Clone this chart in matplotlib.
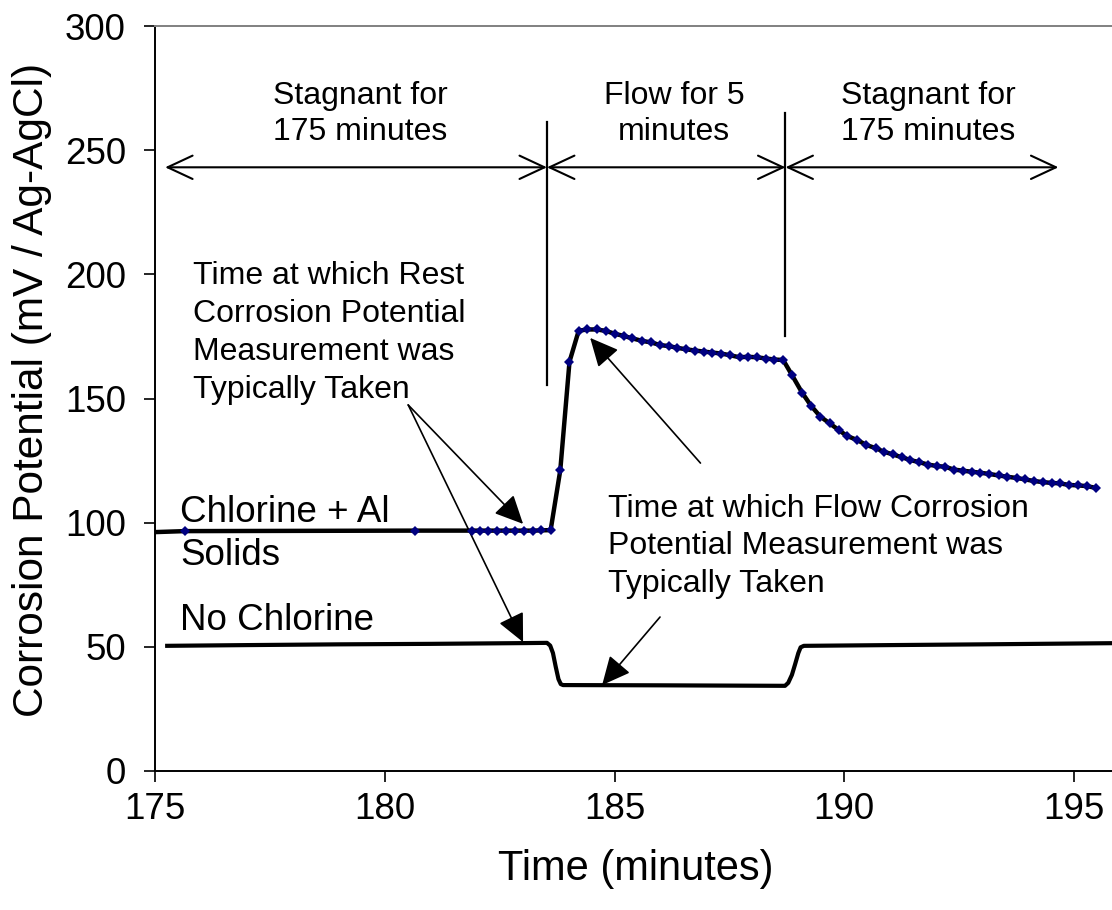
import matplotlib
matplotlib.use("Agg")
import matplotlib.pyplot as plt

plt.rcParams['font.family'] = ['Liberation Sans', 'DejaVu Sans']

# ---------------- data ----------------
# Chlorine + Al solids (minutes, mV)
chl_time = [175.00, 175.65, 180.66, 181.89, 182.07, 182.25, 182.45, 182.64, 182.83,
            183.03, 183.23, 183.41, 183.61, 183.82, 184.02, 184.22, 184.41, 184.62,
            184.81, 185.02, 185.20, 185.39, 185.60, 185.79, 186.00, 186.18, 186.37,
            186.56, 186.76, 186.94, 187.13, 187.32, 187.52, 187.72, 187.90, 188.10,
            188.30, 188.48, 188.67, 188.86, 189.08, 189.28, 189.48, 189.68, 189.88,
            190.06, 190.28, 190.48, 190.68, 190.86, 191.05, 191.26, 191.44, 191.62,
            191.82, 192.02, 192.20, 192.38, 192.59, 192.78, 192.96, 193.16, 193.36,
            193.54, 193.75, 193.94, 194.12, 194.33, 194.52, 194.70, 194.88, 195.09,
            195.29, 195.47]
chl_value = [96.2, 96.6, 96.8, 96.8, 96.8, 96.8, 96.8, 96.8, 96.8,
             96.8, 96.8, 96.9, 97.0, 121.2, 164.8, 177.3, 177.8, 177.8,
             177.2, 176.0, 175.2, 174.2, 173.2, 172.6, 171.5, 171.1, 170.4,
             169.8, 169.3, 168.9, 168.5, 168.1, 167.4, 166.6, 166.8, 166.6,
             166.1, 165.7, 165.5, 159.5, 152.4, 147.0, 142.7, 140.0, 137.3,
             134.9, 133.3, 131.3, 130.0, 128.6, 127.5, 126.3, 125.2, 124.4,
             123.4, 122.8, 122.5, 121.4, 120.9, 120.5, 120.1, 119.6, 119.0,
             118.5, 118.0, 117.4, 116.8, 116.3, 116.0, 115.8, 115.2, 115.0,
             114.7, 114.0]

# No chlorine (minutes, mV)
nc_time = [175.22, 177.0, 179.0, 181.0, 183.0, 183.53, 183.60, 183.66, 183.72,
           183.78, 183.83, 183.88, 186.0, 188.71, 188.78, 188.86, 188.93, 189.00,
           189.05, 189.12, 191.0, 193.0, 196.0]
nc_value = [50.4, 50.7, 51.0, 51.2, 51.5, 51.6, 50.5, 47.5, 42.0,
            37.0, 35.0, 34.6, 34.5, 34.3, 35.5, 38.7, 43.0, 47.5,
            49.8, 50.4, 50.7, 51.0, 51.5]

x_ticks = [175, 180, 185, 190, 195]
y_ticks = [0, 50, 100, 150, 200, 250, 300]

flow_start = 183.53
flow_end = 188.72

# ---------------- figure ----------------
fig = plt.figure(figsize=(11.12, 9.10), dpi=100)
ax = fig.add_axes([155 / 1112, (910 - 771) / 910, 965 / 1112, 745 / 910])
ax.set_xlim(175, 196)
ax.set_ylim(0, 300)

# series
ax.plot(nc_time, nc_value, color='black', lw=3.0, solid_capstyle='butt', zorder=3)
ax.plot(chl_time, chl_value, color='black', lw=3.2, zorder=3)
ax.plot(chl_time[1:], chl_value[1:], linestyle='none', marker='D', markersize=5.2,
        color='#000080', markeredgewidth=0, zorder=4)

# axes styling
for side in ['left', 'bottom']:
    ax.spines[side].set_color('black')
    ax.spines[side].set_linewidth(1.4)
ax.spines['top'].set_color('#808080')
ax.spines['top'].set_linewidth(1.4)
ax.spines['right'].set_visible(False)

ax.set_xticks(x_ticks)
ax.set_yticks(y_ticks)
ax.tick_params(axis='both', direction='out', length=8, width=1.2, labelsize=26.5,
               colors='black')
ax.tick_params(axis='y', pad=13)
ax.tick_params(axis='x', pad=7)

ax.set_xlabel('Time (minutes)', fontsize=30)
ax.xaxis.set_label_coords((636 - 155) / 965, (771 - 869) / 745)
ax.xaxis.label.set_verticalalignment('center')
ax.set_ylabel('Corrosion Potential (mV / Ag-AgCl)', fontsize=30.5)
ax.yaxis.set_label_coords((32 - 155) / 965, (771 - 390) / 745)
ax.yaxis.label.set_verticalalignment('center')

# vertical separators
ax.plot([flow_start, flow_start], [155.4, 261.5], color='black', lw=1.6, zorder=2)
ax.plot([flow_end, flow_end], [175.2, 265.0], color='black', lw=1.6, zorder=2)

# double arrows
arrow_y = 243.1
dbl = dict(arrowstyle='<->,head_length=0.9,head_width=0.42', mutation_scale=20,
           lw=1.5, color='black', shrinkA=0, shrinkB=0)
ax.annotate('', xy=(flow_start, arrow_y), xytext=(175.22, arrow_y), arrowprops=dbl)
ax.annotate('', xy=(flow_end, arrow_y), xytext=(flow_start, arrow_y), arrowprops=dbl)
ax.annotate('', xy=(194.66, arrow_y), xytext=(flow_end, arrow_y), arrowprops=dbl)

# period texts (y = baseline of the last line)
fs_ann = 23
ax.text(179.46, 254.1, 'Stagnant for\n175 minutes', fontsize=fs_ann, ha='center',
        va='baseline', linespacing=1.24)
ax.text(186.30, 254.1, 'Flow for 5\nminutes', fontsize=fs_ann, ha='center',
        va='baseline', linespacing=1.24)
ax.text(191.83, 254.1, 'Stagnant for\n175 minutes', fontsize=fs_ann, ha='center',
        va='baseline', linespacing=1.24)

# rest measurement annotation
ax.text(175.82, 150.1, 'Time at which Rest\nCorrosion Potential\nMeasurement was\nTypically Taken',
        fontsize=fs_ann, ha='left', va='baseline', linespacing=1.35)
head = dict(arrowstyle='-|>,head_length=0.8,head_width=0.38', mutation_scale=22,
            lw=1.2, color='black', shrinkA=0, shrinkB=0)
ax.annotate('', xy=(183.01, 51.9), xytext=(180.51, 147.4), arrowprops=head)
ax.annotate('', xy=(183.01, 99.5), xytext=(180.51, 147.4), arrowprops=head)

# flow measurement annotation
ax.text(184.86, 72.1, 'Time at which Flow Corrosion\nPotential Measurement was\nTypically Taken',
        fontsize=fs_ann, ha='left', va='baseline', linespacing=1.33)
ax.annotate('', xy=(184.47, 174.4), xytext=(186.87, 124.0), arrowprops=head)
ax.annotate('', xy=(184.73, 34.6), xytext=(185.99, 62.0), arrowprops=head)

# series labels
ax.text(175.54, 83.0, 'Chlorine + Al\nSolids', fontsize=26.5, ha='left', va='baseline',
        linespacing=1.29)
ax.text(175.54, 56.8, 'No Chlorine', fontsize=26.5, ha='left', va='baseline')

fig.savefig('out.png', dpi=100)
